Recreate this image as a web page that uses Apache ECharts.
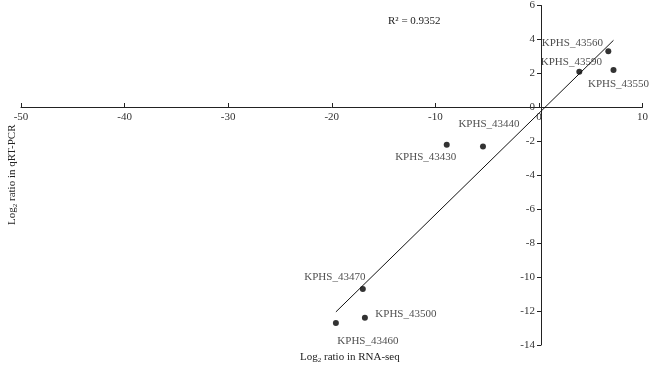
<!DOCTYPE html>
<html>
<head>
<meta charset="utf-8">
<script src="https://cdn.jsdelivr.net/npm/echarts@6/dist/echarts.min.js"></script>
<style>
  html, body { margin: 0; padding: 0; background: #fff; }
  #chart { width: 651px; height: 369px; }
</style>
</head>
<body>
<div id="chart"></div>
<script>
// gene names and log2 ratios (RNA-seq, qRT-PCR)
const genes = ['KPHS_43560', 'KPHS_43590', 'KPHS_43550', 'KPHS_43430', 'KPHS_43440', 'KPHS_43470', 'KPHS_43500', 'KPHS_43460']
const rnaSeq = [6.7, 3.9, 7.2, -8.9, -5.4, -17.0, -16.8, -19.6]
const qrtPcr = [3.3, 2.1, 2.2, -2.2, -2.3, -10.7, -12.4, -12.7]
// label offsets from each point (pixels)
const labelOffsets = [[-36, -8], [-8, -10], [5, 14], [-21, 12], [6, -22], [-28, -12], [41, -4], [32, 18]]
// linear fit line ends
const fitX = [-19.6, 7.2]
const fitY = [-12.05, 3.95]
const rSquared = 'R² = 0.9352'

const font = 'Liberation Serif'
const myChart = echarts.init(document.getElementById('chart'))

// grid box: x from 21 to 645, y from 5 to 345; axes cross at (0,0)
myChart.setOption({
  animation: false,
  textStyle: { fontFamily: font },
  grid: { left: 21, right: 6, top: 5, bottom: 24 },
  xAxis: {
    type: 'value',
    min: -50,
    max: 10,
    interval: 10,
    offset: -238,
    splitLine: { show: false },
    axisLine: { onZero: false, lineStyle: { color: '#222', width: 1 } },
    axisTick: { inside: true, length: 4, lineStyle: { color: '#222' } },
    axisLabel: { color: '#333', fontSize: 11, fontFamily: font, margin: 5 }
  },
  yAxis: {
    type: 'value',
    min: -14,
    max: 6,
    interval: 2,
    offset: -520,
    splitLine: { show: false },
    axisLine: { onZero: false, lineStyle: { color: '#222', width: 1 } },
    axisTick: { length: 4, lineStyle: { color: '#222' } },
    axisLabel: { color: '#333', fontSize: 11, fontFamily: font, margin: 6 }
  },
  series: [
    {
      type: 'scatter',
      symbolSize: 6,
      itemStyle: { color: '#000' },
      data: genes.map((g, i) => ({
        value: [rnaSeq[i], qrtPcr[i]],
        name: g,
        label: {
          show: true,
          position: 'inside',
          offset: labelOffsets[i],
          formatter: g,
          color: '#222',
          fontSize: 11,
          fontFamily: font
        }
      }))
    },
    {
      type: 'line',
      symbol: 'none',
      lineStyle: { color: '#111', width: 1 },
      data: fitX.map((x, i) => [x, fitY[i]])
    }
  ],
  graphic: [
    {
      type: 'text',
      left: 388,
      top: 16,
      style: { text: rSquared, font: '11px ' + font, fill: '#222' }
    },
    {
      type: 'text',
      left: 300,
      top: 352,
      style: {
        rich: { s: { fontSize: 7, fontFamily: font, padding: [6, 0, 0, 0], fill: '#222' } },
        text: 'Log{s|2} ratio in RNA-seq',
        font: '11px ' + font,
        fill: '#222'
      }
    },
    {
      type: 'text',
      x: 6,
      y: 225,
      rotation: Math.PI / 2,
      style: {
        rich: { s: { fontSize: 7, fontFamily: font, padding: [6, 0, 0, 0], fill: '#222' } },
        text: 'Log{s|2} ratio in qRT-PCR',
        font: '11px ' + font,
        fill: '#222'
      }
    }
  ]
})
</script>
</body>
</html>
